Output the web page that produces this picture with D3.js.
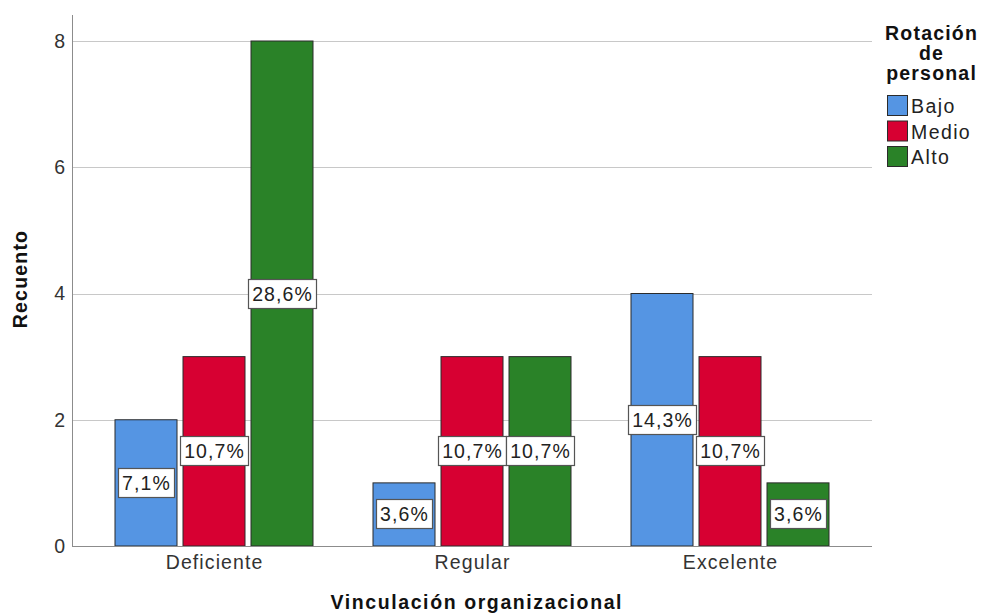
<!DOCTYPE html>
<html>
<head>
<meta charset="utf-8">
<script src="https://cdn.jsdelivr.net/npm/d3@7"></script>
<style>
body{margin:0;background:#fff;}
svg{display:block;font-family:"Liberation Sans",Arial,sans-serif;}
</style>
</head>
<body>
<svg id="chart" width="982" height="614"></svg>
<script>
const categories = ["Deficiente","Regular","Excelente"];
const seriesNames = ["Bajo","Medio","Alto"];
const bajo  = [2,1,4];
const medio = [3,3,3];
const alto  = [8,3,1];
const bajoPct  = ["7,1%","3,6%","14,3%"];
const medioPct = ["10,7%","10,7%","10,7%"];
const altoPct  = ["28,6%","10,7%","3,6%"];
const yTicks = [0,2,4,6,8];
const colors = ["#5595e3","#d70032","#2a8228"];

const values = [bajo, medio, alto];
const pcts = [bajoPct, medioPct, altoPct];

const FS = 19.5, LS = 1.1, BLS = 1.2;

const svg = d3.select("#chart");
const pLeft = 72, pRight = 872, pTop = 41, pBottom = 546;

const x0 = d3.scaleBand().domain(categories).range([85, 859]).paddingInner(0).paddingOuter(0);
const x1 = d3.scaleBand().domain(seriesNames).range([(258-198)/2, (258-198)/2 + 198]).paddingInner(6/68).paddingOuter(0);
const y = d3.scaleLinear().domain([0,8]).range([pBottom, pTop]);

// gridlines
svg.append("g").selectAll("line").data(yTicks.filter(d=>d>0)).join("line")
  .attr("x1", pLeft).attr("x2", pRight)
  .attr("y1", d=>Math.round(y(d))+0.5).attr("y2", d=>Math.round(y(d))+0.5)
  .attr("stroke", "#c8c8c8").attr("stroke-width", 1);

// y axis
const yAxis = d3.axisLeft(y).tickValues(yTicks).tickSize(0).tickPadding(7).tickFormat(d3.format("d"));
const gy = svg.append("g").attr("transform", `translate(${pLeft},0)`).call(yAxis);
gy.select(".domain").remove();
gy.selectAll("text").attr("font-size", FS).attr("fill", "#333").attr("font-family","Liberation Sans, Arial, sans-serif");
svg.append("line").attr("x1", pLeft+0.5).attr("x2", pLeft+0.5).attr("y1", 15).attr("y2", pBottom)
  .attr("stroke", "#8c8c8c");

// bars
const data = [];
categories.forEach((c, ci) => {
  seriesNames.forEach((s, si) => {
    data.push({cat:c, ser:s, si, v: values[si][ci], p: pcts[si][ci]});
  });
});

const g = svg.append("g");
g.selectAll("rect.bar").data(data).join("rect")
  .attr("class","bar")
  .attr("x", d => x0(d.cat) + x1(d.ser))
  .attr("y", d => y(d.v))
  .attr("width", x1.bandwidth())
  .attr("height", d => y(0) - y(d.v))
  .attr("fill", d => colors[d.si])
  .attr("stroke", "#2b2b2b").attr("stroke-width", 1);

// x baseline
svg.append("line").attr("x1", pLeft).attr("x2", pRight).attr("y1", pBottom+0.5).attr("y2", pBottom+0.5)
  .attr("stroke", "#8c8c8c");

// labels
const lg = svg.append("g");
data.forEach(d => {
  const cx = x0(d.cat) + x1(d.ser) + x1.bandwidth()/2;
  const cy = (y(d.v) + y(0)) / 2;
  const t = lg.append("text").attr("x", cx + LS/2).attr("y", cy + 7)
    .attr("text-anchor","middle").attr("font-size", FS).attr("letter-spacing", LS)
    .attr("fill","#222").text(d.p);
  const w = t.node().getComputedTextLength() - LS;
  const bw = Math.round(w + 8);
  lg.insert("rect", () => t.node())
    .attr("x", Math.round(cx - bw/2) + 0.5).attr("y", Math.round(cy - 15) + 0.5)
    .attr("width", bw).attr("height", 29)
    .attr("fill","#fff").attr("stroke","#555").attr("stroke-width",1.2);
});

// x category labels
const xAxis = d3.axisBottom(x0).tickSize(0).tickPadding(9);
const gx = svg.append("g").attr("transform", `translate(0,${pBottom})`).call(xAxis);
gx.select(".domain").remove();
gx.selectAll("text").attr("font-size", FS).attr("letter-spacing", LS).attr("dx", LS/2)
  .attr("fill","#333").attr("font-family","Liberation Sans, Arial, sans-serif");

// axis titles
svg.append("text").attr("x", 476 + 0.8).attr("y", 609).attr("text-anchor","middle")
  .attr("font-size", FS).attr("font-weight","bold").attr("letter-spacing", 1.6)
  .attr("fill","#111").text("Vinculación organizacional");
svg.append("text").attr("transform","translate(27,279) rotate(-90)").attr("text-anchor","middle")
  .attr("font-size", FS).attr("font-weight","bold").attr("letter-spacing", BLS)
  .attr("fill","#111").text("Recuento");

// legend
const legTitle = ["Rotación","de","personal"];
svg.append("g").selectAll("text").data(legTitle).join("text")
  .attr("x", 931 + BLS/2).attr("y", (d,i) => 40 + i*20).attr("text-anchor","middle")
  .attr("font-size", FS).attr("font-weight","bold").attr("letter-spacing", BLS)
  .attr("fill","#111").text(d=>d);
const leg = svg.append("g").selectAll("g").data(seriesNames).join("g")
  .attr("transform", (d,i) => `translate(887,${95 + i*25.5})`);
leg.append("rect").attr("x",0.5).attr("y",0.5).attr("width",20).attr("height",20)
  .attr("fill",(d,i)=>colors[i]).attr("stroke","#2b2b2b");
leg.append("text").attr("x", 24).attr("y", 18).attr("font-size", FS).attr("letter-spacing", LS+0.3)
  .attr("fill","#222").text(d=>d);
</script>
</body>
</html>
